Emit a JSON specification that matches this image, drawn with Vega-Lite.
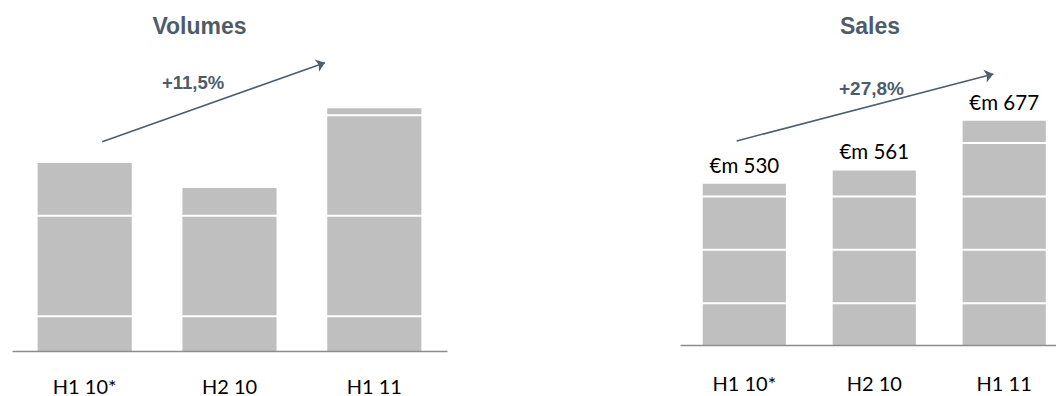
{
  "$schema": "https://vega.github.io/schema/vega-lite/v6.json",
  "padding": {"left": 12, "top": 16, "right": 0, "bottom": 0},
  "background": "white",
  "config": {
    "view": {"stroke": null},
    "axis": {"grid": false},
    "title": {"font": "Liberation Sans", "fontSize": 23, "fontWeight": "bold", "color": "#4e5c68", "anchor": "middle", "baseline": "alphabetic", "offset": 11}
  },
  "datasets": {
    "volBars": [
      {"period": "H1 10*", "value": 252.6},
      {"period": "H2 10", "value": 227.7},
      {"period": "H1 11", "value": 307}
    ],
    "volSeps": [
      {"period": "H1 10*", "value": 100}, {"period": "H1 10*", "value": 200},
      {"period": "H2 10", "value": 100}, {"period": "H2 10", "value": 200},
      {"period": "H1 11", "value": 100}, {"period": "H1 11", "value": 200}, {"period": "H1 11", "value": 300}
    ],
    "volArrow": [{"pos": 0.126, "value": 273.8}, {"pos": 1.664, "value": 352.4}],
    "volHead": [{"pos": 1.664, "value": 352.4}],
    "volPct": [{"pos": 0.753, "value": 332.2, "label": "+11,5%"}],
    "salesBars": [
      {"period": "H1 10*", "value": 530, "label": "€m 530"},
      {"period": "H2 10", "value": 561, "label": "€m 561"},
      {"period": "H1 11", "value": 677, "label": "€m 677"}
    ],
    "salesSeps": [
      {"period": "H1 10*", "value": 250}, {"period": "H1 10*", "value": 375}, {"period": "H1 10*", "value": 500},
      {"period": "H2 10", "value": 250}, {"period": "H2 10", "value": 375}, {"period": "H2 10", "value": 500},
      {"period": "H1 11", "value": 250}, {"period": "H1 11", "value": 375}, {"period": "H1 11", "value": 500}, {"period": "H1 11", "value": 625}
    ],
    "salesArrow": [{"pos": -0.058, "value": 630}, {"pos": 1.918, "value": 787}],
    "salesHead": [{"pos": 1.918, "value": 787}],
    "salesPct": [{"pos": 0.98, "value": 752, "label": "+27,8%"}]
  },
  "hconcat": [
    {
      "title": {"text": "Volumes", "dx": -30},
      "width": 435,
      "height": 301,
      "resolve": {"scale": {"x": "independent"}, "axis": {"x": "independent"}},
      "layer": [
        {
          "layer": [
            {
              "data": {"name": "volBars"},
              "mark": {"type": "bar", "color": "#bfbfbf", "clip": true},
              "encoding": {
                "x": {"field": "period", "type": "nominal", "sort": null,
                  "scale": {"paddingInner": 0.35, "paddingOuter": 0.177},
                  "axis": {"title": null, "labelAngle": 0, "ticks": false, "labelFont": "Lato", "labelFontSize": 20, "labelColor": "#000000", "labelBaseline": "alphabetic", "labelPadding": 42, "domainColor": "#8c8c8c", "domainWidth": 1.5, "zindex": 1}},
                "y": {"field": "value", "type": "quantitative", "scale": {"domain": [65.5, 365], "zero": false, "nice": false}, "axis": null}
              }
            },
            {
              "data": {"name": "volSeps"},
              "mark": {"type": "tick", "color": "#ffffff", "size": 96, "thickness": 2, "opacity": 1},
              "encoding": {
                "x": {"field": "period", "type": "nominal", "sort": ["H1 10*", "H2 10", "H1 11"]},
                "y": {"field": "value", "type": "quantitative"}
              }
            }
          ]
        },
        {
          "layer": [
            {
              "data": {"name": "volArrow"},
              "mark": {"type": "line", "color": "#4d5e6c", "strokeWidth": 1.6},
              "encoding": {
                "x": {"field": "pos", "type": "quantitative", "scale": {"domain": [-0.497, 2.507], "nice": false, "zero": false}, "axis": null},
                "y": {"field": "value", "type": "quantitative"}
              }
            },
            {
              "data": {"name": "volHead"},
              "mark": {"type": "point", "shape": "M0,0L-1,-0.75L-0.75,0L-1,0.75Z", "filled": true, "color": "#4d5e6c", "opacity": 1, "size": 300, "angle": 340.5},
              "encoding": {
                "x": {"field": "pos", "type": "quantitative"},
                "y": {"field": "value", "type": "quantitative"}
              }
            },
            {
              "data": {"name": "volPct"},
              "mark": {"type": "text", "font": "Liberation Sans", "fontWeight": "bold", "fontSize": 18.5, "color": "#4e5c68", "baseline": "middle", "align": "center"},
              "encoding": {
                "x": {"field": "pos", "type": "quantitative"},
                "y": {"field": "value", "type": "quantitative"},
                "text": {"field": "label"}
              }
            }
          ]
        }
      ]
    },
    {
      "title": {"text": "Sales", "dx": 2},
      "width": 376,
      "height": 295,
      "resolve": {"scale": {"x": "independent"}, "axis": {"x": "independent"}},
      "layer": [
        {
          "layer": [
            {
              "data": {"name": "salesBars"},
              "mark": {"type": "bar", "color": "#bfbfbf", "clip": true},
              "encoding": {
                "x": {"field": "period", "type": "nominal", "sort": null,
                  "scale": {"paddingInner": 0.36, "paddingOuter": 0.127, "align": 0.69},
                  "axis": {"title": null, "labelAngle": 0, "ticks": false, "labelFont": "Lato", "labelFontSize": 20, "labelColor": "#000000", "labelBaseline": "alphabetic", "labelPadding": 45, "domainColor": "#8c8c8c", "domainWidth": 1.5, "zindex": 1}},
                "y": {"field": "value", "type": "quantitative", "scale": {"domain": [152, 843], "zero": false, "nice": false}, "axis": null}
              }
            },
            {
              "data": {"name": "salesSeps"},
              "mark": {"type": "tick", "color": "#ffffff", "size": 85, "thickness": 2, "opacity": 1},
              "encoding": {
                "x": {"field": "period", "type": "nominal", "sort": ["H1 10*", "H2 10", "H1 11"]},
                "y": {"field": "value", "type": "quantitative"}
              }
            },
            {
              "data": {"name": "salesBars"},
              "mark": {"type": "text", "font": "Lato", "fontSize": 20.5, "color": "#000000", "baseline": "middle", "dy": -17},
              "encoding": {
                "x": {"field": "period", "type": "nominal", "sort": null},
                "y": {"field": "value", "type": "quantitative"},
                "text": {"field": "label"}
              }
            }
          ]
        },
        {
          "layer": [
            {
              "data": {"name": "salesArrow"},
              "mark": {"type": "line", "color": "#4d5e6c", "strokeWidth": 1.6},
              "encoding": {
                "x": {"field": "pos", "type": "quantitative", "scale": {"domain": [-0.494, 2.4], "nice": false, "zero": false}, "axis": null},
                "y": {"field": "value", "type": "quantitative"}
              }
            },
            {
              "data": {"name": "salesHead"},
              "mark": {"type": "point", "shape": "M0,0L-1,-0.75L-0.75,0L-1,0.75Z", "filled": true, "color": "#4d5e6c", "opacity": 1, "size": 300, "angle": 345.4},
              "encoding": {
                "x": {"field": "pos", "type": "quantitative"},
                "y": {"field": "value", "type": "quantitative"}
              }
            },
            {
              "data": {"name": "salesPct"},
              "mark": {"type": "text", "font": "Liberation Sans", "fontWeight": "bold", "fontSize": 19, "color": "#4e5c68", "baseline": "middle", "align": "center"},
              "encoding": {
                "x": {"field": "pos", "type": "quantitative"},
                "y": {"field": "value", "type": "quantitative"},
                "text": {"field": "label"}
              }
            }
          ]
        }
      ]
    }
  ],
  "spacing": 233,
  "bounds": "flush"
}
